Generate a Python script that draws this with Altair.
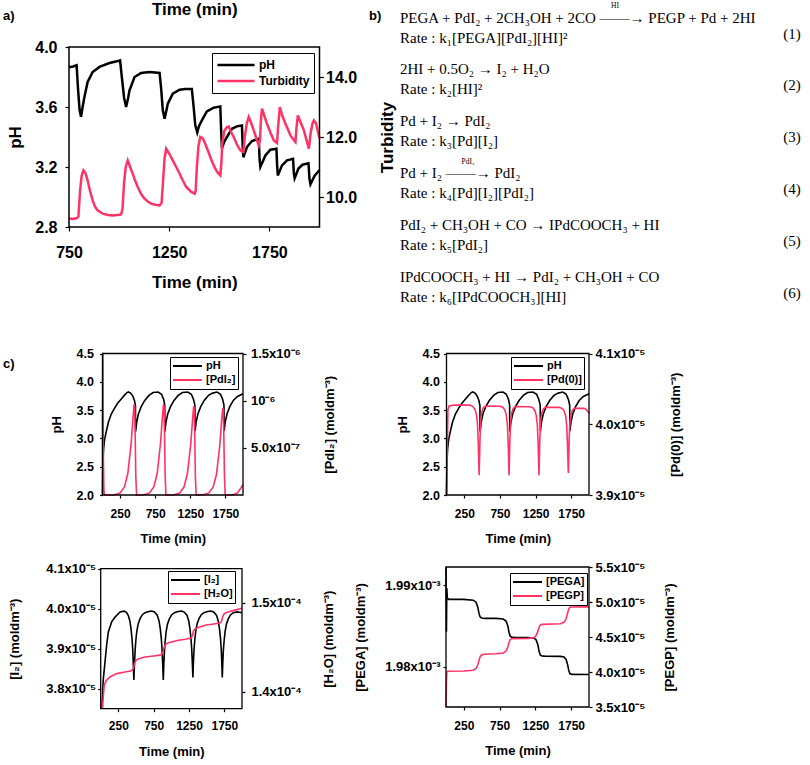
import json
import altair as alt
import pandas as pd

FONT = "Liberation Sans"
SERIF = "Liberation Serif"
RED = "#ff3366"

# ---------------- panel a (measured pH and turbidity) ----------------
a_ph = [(750, 3.865), (770, 3.87), (788, 3.878), (795, 3.72), (803, 3.58), (810, 3.535),
        (818, 3.6), (827, 3.667), (843, 3.767), (868, 3.833), (902, 3.867), (952, 3.893),
        (1000, 3.908), (1005, 3.91), (1012, 3.82), (1025, 3.66), (1035, 3.6), (1045, 3.66),
        (1052, 3.711), (1077, 3.8), (1110, 3.827), (1152, 3.833), (1202, 3.827), (1210, 3.72),
        (1218, 3.58), (1227, 3.522), (1235, 3.57), (1243, 3.622), (1268, 3.689), (1302, 3.715),
        (1330, 3.72), (1363, 3.72), (1372, 3.6), (1380, 3.48), (1390, 3.43), (1398, 3.47),
        (1413, 3.511), (1438, 3.57), (1472, 3.595), (1505, 3.604), (1509, 3.45), (1513, 3.325),
        (1525, 3.37), (1538, 3.40), (1563, 3.455), (1588, 3.471), (1613, 3.477), (1617, 3.33),
        (1620, 3.265), (1638, 3.333), (1663, 3.373), (1697, 3.389), (1701, 3.25), (1705, 3.2),
        (1730, 3.277), (1755, 3.315), (1785, 3.322), (1789, 3.2), (1792, 3.144), (1813, 3.211),
        (1838, 3.244), (1868, 3.255), (1872, 3.16), (1876, 3.125), (1895, 3.19), (1915, 3.215),
        (1945, 3.225), (1950, 3.12), (1955, 3.085), (1975, 3.14), (2000, 3.18)]

a_turb = [(750, 9.28), (770, 9.27), (790, 9.3), (797, 9.35), (805, 10.2), (813, 10.7),
          (822, 10.887), (832, 10.8), (843, 10.553), (855, 10.2), (868, 9.887), (880, 9.68),
          (893, 9.553), (918, 9.443), (945, 9.4), (968, 9.387), (990, 9.40), (1010, 9.42),
          (1017, 9.6), (1025, 10.5), (1033, 11.0), (1043, 11.22), (1055, 11.0), (1068, 10.777),
          (1080, 10.55), (1093, 10.333), (1110, 10.1), (1127, 9.943), (1143, 9.85), (1160, 9.777),
          (1180, 9.74), (1202, 9.72), (1212, 9.8), (1220, 10.6), (1227, 11.3), (1235, 11.61),
          (1250, 11.45), (1268, 11.22), (1285, 11.0), (1302, 10.777), (1318, 10.55), (1335, 10.333),
          (1360, 10.167), (1377, 10.11), (1382, 10.2), (1388, 11.0), (1396, 11.7), (1405, 12.0),
          (1418, 11.95), (1430, 11.777), (1443, 11.55), (1455, 11.333), (1468, 11.12), (1480, 10.943),
          (1493, 10.8), (1505, 10.72), (1510, 11.1), (1515, 11.8), (1525, 12.2), (1538, 12.333),
          (1547, 12.35), (1560, 12.15), (1572, 12.0), (1588, 11.75), (1605, 11.553), (1620, 11.5),
          (1627, 12.0), (1637, 12.45), (1647, 12.667), (1660, 12.45), (1672, 12.22), (1685, 11.95),
          (1697, 11.72), (1703, 11.9), (1708, 12.6), (1713, 12.943), (1725, 12.7), (1738, 12.443),
          (1755, 12.15), (1772, 11.887), (1788, 11.8), (1793, 12.3), (1802, 13.0), (1815, 12.7),
          (1830, 12.443), (1843, 12.25), (1855, 12.053), (1868, 11.93), (1880, 11.833), (1885, 12.3),
          (1892, 12.72), (1905, 12.5), (1922, 12.22), (1935, 11.9), (1947, 11.61), (1955, 12.1),
          (1965, 12.45), (1972, 12.553), (1983, 12.45), (1993, 12.15), (2000, 11.95)]

# ---------------- panel c (simulated) ----------------
c_ph = [(0, 2.0), (6, 2.55), (14, 2.79), (30, 2.98), (50, 3.1), (85, 3.29), (125, 3.43),
        (170, 3.53), (215, 3.62), (264, 3.69), (310, 3.76), (349, 3.81), (368, 3.82), (400, 3.80),
        (430, 3.75), (455, 3.67), (469, 3.58), (471, 3.12), (486, 3.28), (511, 3.43), (551, 3.56),
        (601, 3.67), (661, 3.76), (721, 3.81), (793, 3.82), (840, 3.78), (870, 3.69), (886, 3.59),
        (888, 3.12), (903, 3.28), (928, 3.43), (968, 3.56), (1018, 3.67), (1078, 3.76), (1138, 3.81),
        (1213, 3.82), (1265, 3.78), (1295, 3.69), (1315, 3.59), (1318, 3.13), (1333, 3.29),
        (1358, 3.43), (1398, 3.56), (1448, 3.67), (1508, 3.76), (1568, 3.80), (1632, 3.82),
        (1680, 3.78), (1710, 3.69), (1729, 3.59), (1732, 3.13), (1747, 3.29), (1772, 3.43),
        (1812, 3.56), (1862, 3.67), (1922, 3.74), (2000, 3.79)]

c_pdi2 = [(0, 0.0), (3, 1.5e-6), (8, 1.5e-6), (12, 4.0e-7), (20, 5e-8), (30, 0.0), (160, 0.0),
          (250, 2e-8), (314, 8.8e-8), (361, 2.3e-7), (408, 5.5e-7), (435, 8.3e-7), (450, 9.6e-7),
          (458, 9.4e-7), (466, 6.0e-7), (474, 2.0e-7), (485, 0.0), (578, 0.0), (668, 2e-8),
          (732, 8.8e-8), (779, 2.3e-7), (826, 5.5e-7), (853, 8.3e-7), (868, 9.6e-7), (876, 9.4e-7),
          (884, 6.0e-7), (892, 2.0e-7), (903, 0.0), (1008, 0.0), (1098, 2e-8), (1162, 8.7e-8),
          (1209, 2.3e-7), (1256, 5.4e-7), (1283, 8.1e-7), (1298, 9.4e-7), (1306, 9.2e-7),
          (1314, 6.0e-7), (1322, 2.0e-7), (1333, 0.0), (1422, 0.0), (1512, 2e-8), (1576, 8.5e-8),
          (1623, 2.2e-7), (1670, 5.3e-7), (1697, 8.0e-7), (1712, 9.2e-7), (1720, 9.0e-7),
          (1728, 6.0e-7), (1736, 2.0e-7), (1747, 0.0), (1850, 0.0), (1920, 2e-8), (1950, 5.3e-8),
          (1975, 8e-8), (2000, 1.1e-7)]

c_pd0 = [(0, 3.9e-5), (20, 4.02e-5), (35, 4.026e-5), (100, 4.027e-5), (330, 4.027e-5),
         (370, 4.025e-5), (400, 4.021e-5), (420, 4.014e-5), (435, 4.0e-5), (445, 3.975e-5),
         (452, 3.95e-5), (458, 3.928e-5), (463, 3.95e-5), (470, 3.98e-5), (480, 4.005e-5),
         (495, 4.017e-5), (515, 4.023e-5), (545, 4.0257e-5), (750, 4.0255e-5), (790, 4.024e-5),
         (820, 4.02e-5), (840, 4.013e-5), (855, 3.999e-5), (865, 3.975e-5), (872, 3.95e-5),
         (878, 3.928e-5), (883, 3.95e-5), (890, 3.98e-5), (900, 4.004e-5), (915, 4.016e-5),
         (935, 4.022e-5), (965, 4.0249e-5), (1170, 4.0247e-5), (1210, 4.0235e-5), (1240, 4.0195e-5),
         (1260, 4.0125e-5), (1275, 3.999e-5), (1285, 3.975e-5), (1292, 3.95e-5), (1298, 3.928e-5),
         (1303, 3.95e-5), (1310, 3.98e-5), (1320, 4.003e-5), (1335, 4.015e-5), (1355, 4.021e-5),
         (1385, 4.024e-5), (1580, 4.0238e-5), (1620, 4.0225e-5), (1650, 4.019e-5), (1672, 4.012e-5),
         (1687, 3.998e-5), (1697, 3.975e-5), (1704, 3.95e-5), (1710, 3.931e-5), (1715, 3.95e-5),
         (1722, 3.98e-5), (1732, 4.002e-5), (1747, 4.014e-5), (1767, 4.02e-5), (1797, 4.0226e-5),
         (1930, 4.0225e-5), (1960, 4.021e-5), (1985, 4.018e-5), (2000, 4.0154e-5)]

c_i2 = [(18, 3.75e-5), (35, 3.82e-5), (61, 3.867e-5), (85, 3.91e-5), (108, 3.942e-5), (155, 3.967e-5),
        (203, 3.979e-5), (274, 3.992e-5), (330, 3.994e-5), (365, 3.991e-5), (391, 3.983e-5),
        (412, 3.97e-5), (429, 3.95e-5), (443, 3.925e-5), (453, 3.9e-5), (462, 3.86e-5),
        (470, 3.822e-5), (477, 3.86e-5), (486, 3.892e-5), (497, 3.92e-5), (510, 3.942e-5),
        (530, 3.962e-5), (557, 3.975e-5), (590, 3.985e-5), (627, 3.99e-5), (680, 3.993e-5),
        (722, 3.994e-5), (760, 3.992e-5), (800, 3.984e-5), (825, 3.97e-5), (843, 3.95e-5),
        (858, 3.925e-5), (868, 3.9e-5), (878, 3.86e-5), (886, 3.822e-5), (893, 3.86e-5),
        (902, 3.892e-5), (913, 3.92e-5), (926, 3.942e-5), (946, 3.962e-5), (973, 3.975e-5),
        (1006, 3.985e-5), (1043, 3.99e-5), (1096, 3.993e-5), (1140, 3.994e-5), (1180, 3.992e-5),
        (1220, 3.984e-5), (1245, 3.97e-5), (1263, 3.95e-5), (1278, 3.925e-5), (1288, 3.9e-5),
        (1297, 3.865e-5), (1305, 3.828e-5), (1312, 3.865e-5), (1320, 3.895e-5), (1331, 3.92e-5),
        (1344, 3.942e-5), (1364, 3.962e-5), (1391, 3.975e-5), (1424, 3.985e-5), (1461, 3.99e-5),
        (1514, 3.993e-5), (1558, 3.994e-5), (1598, 3.992e-5), (1638, 3.984e-5), (1663, 3.97e-5),
        (1681, 3.95e-5), (1696, 3.925e-5), (1706, 3.9e-5), (1714, 3.865e-5), (1721, 3.828e-5),
        (1728, 3.865e-5), (1736, 3.895e-5), (1747, 3.92e-5), (1760, 3.942e-5), (1780, 3.962e-5),
        (1807, 3.975e-5), (1840, 3.985e-5), (1877, 3.99e-5), (1930, 3.992e-5), (2000, 3.99e-5)]

c_h2o = [(25, 1.3813e-4), (37, 1.395e-4), (50, 1.4075e-4), (80, 1.413e-4), (132, 1.4168e-4),
         (226, 1.4205e-4), (344, 1.4223e-4), (420, 1.4235e-4), (450, 1.4245e-4), (465, 1.427e-4),
         (480, 1.432e-4), (500, 1.4355e-4), (530, 1.437e-4), (627, 1.4391e-4), (750, 1.4403e-4),
         (840, 1.4412e-4), (870, 1.4425e-4), (885, 1.4455e-4), (900, 1.4505e-4), (920, 1.4532e-4),
         (960, 1.455e-4), (1099, 1.4578e-4), (1200, 1.459e-4), (1280, 1.4602e-4), (1298, 1.463e-4),
         (1312, 1.468e-4), (1335, 1.4705e-4), (1380, 1.4722e-4), (1477, 1.4745e-4), (1600, 1.476e-4),
         (1690, 1.4771e-4), (1712, 1.4795e-4), (1728, 1.4845e-4), (1750, 1.4875e-4), (1800, 1.4895e-4),
         (1900, 1.4915e-4), (2000, 1.4935e-4)]

c_pega = [(0, 1.9922e-3), (6, 1.9843e-3), (12, 1.9896e-3), (18, 1.9884e-3), (40, 1.98825e-3),
          (250, 1.98825e-3), (380, 1.98815e-3), (420, 1.9879e-3), (445, 1.9873e-3), (462, 1.9865e-3),
          (478, 1.9861e-3), (500, 1.98598e-3), (540, 1.98592e-3), (700, 1.98592e-3), (800, 1.98585e-3),
          (840, 1.9856e-3), (865, 1.985e-3), (882, 1.9842e-3), (898, 1.98375e-3), (920, 1.98362e-3),
          (960, 1.9836e-3), (1150, 1.98358e-3), (1230, 1.9835e-3), (1260, 1.9833e-3), (1285, 1.9827e-3),
          (1302, 1.9819e-3), (1318, 1.98145e-3), (1340, 1.98133e-3), (1380, 1.98131e-3),
          (1600, 1.98128e-3), (1650, 1.9812e-3), (1680, 1.9809e-3), (1700, 1.9803e-3), (1716, 1.9796e-3),
          (1732, 1.97918e-3), (1760, 1.97908e-3), (2000, 1.97907e-3)]

c_pegp = [(0, 3.5e-5), (6, 3.8e-5), (10, 4.0e-5), (30, 4.01e-5), (250, 4.014e-5), (380, 4.025e-5),
          (420, 4.05e-5), (445, 4.1e-5), (462, 4.17e-5), (478, 4.22e-5), (500, 4.245e-5),
          (540, 4.253e-5), (700, 4.26e-5), (800, 4.27e-5), (840, 4.3e-5), (865, 4.36e-5),
          (882, 4.42e-5), (898, 4.465e-5), (920, 4.477e-5), (1150, 4.48e-5), (1230, 4.49e-5),
          (1260, 4.52e-5), (1285, 4.58e-5), (1302, 4.64e-5), (1318, 4.67e-5), (1340, 4.681e-5),
          (1600, 4.69e-5), (1650, 4.71e-5), (1680, 4.76e-5), (1700, 4.84e-5), (1716, 4.9e-5),
          (1732, 4.925e-5), (1760, 4.929e-5), (2000, 4.93e-5)]

# ---------------- ticks / labels ----------------
a_x_ticks = [750, 1250, 1750]
a_x_labels = ["750", "1250", "1750"]
a_ph_ticks = [2.8, 3.2, 3.6, 4.0]
a_ph_labels = ["2.8", "3.2", "3.6", "4.0"]
a_turb_ticks = [10, 12, 14]
a_turb_labels = ["10.0", "12.0", "14.0"]
c_x_ticks = [250, 750, 1250, 1750]
c_x_labels = ["250", "750", "1250", "1750"]
c_ph_ticks = [2.0, 2.5, 3.0, 3.5, 4.0, 4.5]
c_ph_labels = ["2.0", "2.5", "3.0", "3.5", "4.0", "4.5"]
pdi2_ticks = [5e-7, 1e-6, 1.5e-6]
pdi2_labels = ["5.0x10⁻⁷", "10⁻⁶", "1.5x10⁻⁶"]
pd0_ticks = [3.9e-5, 4.0e-5, 4.1e-5]
pd0_labels = ["3.9x10⁻⁵", "4.0x10⁻⁵", "4.1x10⁻⁵"]
i2_ticks = [3.8e-5, 3.9e-5, 4.0e-5, 4.1e-5]
i2_labels = ["3.8x10⁻⁵", "3.9x10⁻⁵", "4.0x10⁻⁵", "4.1x10⁻⁵"]
h2o_ticks = [1.4e-4, 1.5e-4]
h2o_labels = ["1.4x10⁻⁴", "1.5x10⁻⁴"]
pega_ticks = [1.98e-3, 1.99e-3]
pega_labels = ["1.98x10⁻³", "1.99x10⁻³"]
pegp_ticks = [3.5e-5, 4.0e-5, 4.5e-5, 5.0e-5, 5.5e-5]
pegp_labels = ["3.5x10⁻⁵", "4.0x10⁻⁵", "4.5x10⁻⁵", "5.0x10⁻⁵", "5.5x10⁻⁵"]

# ---------------- equations (panel b) ----------------
eq_reaction = ["PEGA + PdI₂ + 2CH₃OH + 2CO ——→ PEGP + Pd + 2HI",
               "2HI + 0.5O₂ → I₂ + H₂O",
               "Pd + I₂ → PdI₂",
               "Pd + I₂ ——→ PdI₂",
               "PdI₂ + CH₃OH + CO → IPdCOOCH₃ + HI",
               "IPdCOOCH₃ + HI → PdI₂ + CH₃OH + CO"]
eq_rate = ["Rate : k₁[PEGA][PdI₂][HI]²",
           "Rate : k₂[HI]²",
           "Rate : k₃[Pd][I₂]",
           "Rate : k₄[Pd][I₂][PdI₂]",
           "Rate : k₅[PdI₂]",
           "Rate : k₆[IPdCOOCH₃][HI]"]
eq_number = ["(1)", "(2)", "(3)", "(4)", "(5)", "(6)"]
eq_catalyst = ["HI", "PdI₂"]


def lab_expr(ticks, labels):
    step = ticks[1] - ticks[0]
    return f"{json.dumps(labels, ensure_ascii=False)}[round((datum.value - ({ticks[0]!r})) / ({step!r}))]"


def axis(orient, offset, ticks, labels, lfs, title, tfs, extent, tick=3, lpad=3):
    kw = dict(orient=orient, offset=offset, values=ticks, labelExpr=lab_expr(ticks, labels),
              labelFontSize=lfs, title=title, titleFontSize=tfs, minExtent=extent,
              maxExtent=extent, titlePadding=0, tickSize=tick, labelPadding=lpad,
              domain=False, grid=False, labelFlush=False, labelOverlap=False)
    if orient == "right":
        kw.update(titleAngle=270, titleBaseline="top")
    return alt.Axis(**kw)


def legend(x, y, pad, clip, size, sw, lfs):
    return alt.Legend(orient="none", legendX=x, legendY=y, title=None, padding=pad,
                      clipHeight=clip, symbolType="stroke", symbolSize=size,
                      symbolStrokeWidth=sw, labelFont=FONT, labelFontWeight="bold",
                      labelFontSize=lfs, labelColor="black", rowPadding=0, labelOffset=3,
                      symbolOffset=0, strokeColor="black", fillColor="white")


def panel(black, red, names, xdom, xr, ydl, ydr, yr, xax, yaxl, yaxr, leg, lw, fw):
    bdf = pd.DataFrame(black, columns=["t", "v"])
    bdf["series"] = names[0]
    rdf = pd.DataFrame(red, columns=["t", "v"])
    rdf["series"] = names[1]
    fdf = pd.DataFrame({"t": [xdom[0]], "t2": [xdom[1]], "y0": [ydl[0]], "y1": [ydl[1]]})
    cs = alt.Scale(domain=names, range=["black", RED])

    def xs():
        return alt.Scale(domain=xdom, range=xr, nice=False, zero=False)

    def ys(d):
        return alt.Scale(domain=d, range=yr, nice=False, zero=False)

    lb = alt.Chart(bdf).mark_line(strokeWidth=lw).encode(
        x=alt.X("t:Q", scale=xs(), axis=xax),
        y=alt.Y("v:Q", scale=ys(ydl), axis=yaxl),
        color=alt.Color("series:N", scale=cs, legend=leg))
    lr = alt.Chart(rdf).mark_line(strokeWidth=lw).encode(
        x=alt.X("t:Q", scale=xs(), axis=xax),
        y=alt.Y("v:Q", scale=ys(ydr), axis=yaxr),
        color=alt.Color("series:N", scale=cs, legend=leg))
    fr = alt.Chart(fdf).mark_rect(fillOpacity=0, stroke="black", strokeWidth=fw).encode(
        x=alt.X("t:Q", scale=xs(), axis=xax), x2="t2:Q",
        y=alt.Y("y0:Q", scale=ys(ydl), axis=None), y2="y1:Q")
    return alt.layer(lb, lr, fr).resolve_scale(y="independent")


W, H = 810, 765
TM = "Time (min)"
UNIT = " (moldm⁻³)"
SCI = 13

# panel a
A_X, A_XR, A_YR = [750, 2000], [69, 319.5], [227, 47]
pa = panel(a_ph, a_turb, ["pH", "Turbidity"], A_X, A_XR, [2.8, 4.0], [9.0, 15.0], A_YR,
           axis("bottom", 227 - H, a_x_ticks, a_x_labels, 16, TM, 17, 47, tick=4, lpad=13),
           axis("left", -69, a_ph_ticks, a_ph_labels, 16, "pH", 17, 45, tick=4, lpad=8),
           axis("right", 319.5 - W, a_turb_ticks, a_turb_labels, 16, "Turbidity", 17, 60, tick=4, lpad=2),
           legend(212, 53, 4, 16, 1369, 2.5, 12), 2.5, 1.5)

top_df = pd.DataFrame({"x0": [A_X[0]], "x1": [A_X[1]]})
top_title = alt.Chart(top_df).mark_rect(fillOpacity=0, strokeOpacity=0).encode(
    x=alt.X("x0:Q", scale=alt.Scale(domain=A_X, range=A_XR, nice=False, zero=False),
            axis=alt.Axis(orient="top", offset=-47, labels=False, ticks=False, domain=False,
                          title=TM, titleFontSize=17, minExtent=29, maxExtent=29,
                          titlePadding=0, grid=False)),
    x2="x1:Q")

C_X = [0, 2000]
C_TOP_YR = [495, 353.5]
c1 = panel(c_ph, c_pdi2, ["pH", "[PdI₂]"], C_X, [102.5, 243], [2.0, 4.5], [0, 1.5e-6], C_TOP_YR,
           axis("bottom", 495 - H, c_x_ticks, c_x_labels, 12, TM, 13, 37, lpad=10),
           axis("left", -102.5, c_ph_ticks, c_ph_labels, 12.5, "pH", 13, 39, lpad=6),
           axis("right", 243 - W, pdi2_ticks, pdi2_labels, SCI, "[PdI₂]" + UNIT, 13, 80, lpad=4.5),
           legend(170, 357, 2, 14, 841, 2, 11), 1.6, 1.3)
c2 = panel(c_ph, c_pd0, ["pH", "[Pd(0)]"], C_X, [446.5, 589], [2.0, 4.5], [3.9e-5, 4.1e-5], C_TOP_YR,
           axis("bottom", 495 - H, c_x_ticks, c_x_labels, 12, TM, 13, 37, lpad=10),
           axis("left", -446.5, c_ph_ticks, c_ph_labels, 12.5, "pH", 13, 37, lpad=4),
           axis("right", 589 - W, pd0_ticks, pd0_labels, SCI, "[Pd(0)]" + UNIT, 13, 80, lpad=3),
           legend(511, 357, 2, 14, 841, 2, 11), 1.6, 1.3)
c3 = panel(c_i2, c_h2o, ["[I₂]", "[H₂O]"], C_X, [100.7, 242], [3.75e-5, 4.1e-5], [1.3813e-4, 1.5378e-4],
           [708.7, 568.7],
           axis("bottom", 708.7 - H, c_x_ticks, c_x_labels, 12, TM, 13, 37, lpad=9),
           axis("left", -100.7, i2_ticks, i2_labels, SCI, "[I₂]" + UNIT, 13, 79, lpad=2),
           axis("right", 242 - W, h2o_ticks, h2o_labels, SCI, "[H₂O]" + UNIT, 13, 80, lpad=6),
           legend(168, 571, 2, 14, 841, 2, 11), 1.6, 1.3)
c4 = panel(c_pega, c_pegp, ["[PEGA]", "[PEGP]"], C_X, [446, 589], [1.9751e-3, 1.9922e-3], [3.5e-5, 5.5e-5],
           [707, 567],
           axis("bottom", 707 - H, c_x_ticks, c_x_labels, 12, TM, 13, 37.5, lpad=10),
           axis("left", -446, pega_ticks, pega_labels, SCI, "[PEGA]" + UNIT, 13, 79, lpad=3),
           axis("right", 589 - W, pegp_ticks, pegp_labels, SCI, "[PEGP]" + UNIT, 13, 74, lpad=3),
           legend(510, 573, 2, 14, 841, 2, 11), 1.6, 1.3)

# panel b text
eq_df = pd.DataFrame({"idx": list(range(1, 7)), "reaction": eq_reaction, "rate": eq_rate,
                      "num": eq_number})
eq_y = alt.Y("idx:Q", scale=alt.Scale(domain=[1, 6], range=[27.5, 287], nice=False, zero=False),
             axis=None)
EQ_FS = 15
eq_react = alt.Chart(eq_df).mark_text(align="left", baseline="middle", font=SERIF, fontSize=EQ_FS,
                                      color="black", dy=-10).encode(
    x=alt.value(400), y=eq_y, text="reaction:N")
eq_rt = alt.Chart(eq_df).mark_text(align="left", baseline="middle", font=SERIF, fontSize=EQ_FS,
                                   color="black", dy=10).encode(
    x=alt.value(400), y=eq_y, text="rate:N")
eq_num = alt.Chart(eq_df).mark_text(align="center", baseline="middle", font=SERIF, fontSize=EQ_FS,
                                    color="black", dy=6).encode(
    x=alt.value(792), y=eq_y, text="num:N")

cat_df = pd.DataFrame({"t": eq_catalyst})
cat1 = alt.Chart(cat_df.iloc[[0]]).mark_text(font=SERIF, fontSize=7.5, color="black",
                                             baseline="bottom").encode(
    x=alt.value(615), y=alt.value(10), text="t:N")
cat2 = alt.Chart(cat_df.iloc[[1]]).mark_text(font=SERIF, fontSize=7.5, color="black",
                                             baseline="bottom").encode(
    x=alt.value(468), y=alt.value(166), text="t:N")

letters = pd.DataFrame({"l": ["a)", "b)", "c)"]})


def letter(i, x, y):
    return alt.Chart(letters.iloc[[i]]).mark_text(font=FONT, fontWeight="bold", fontSize=13,
                                                   align="left", baseline="middle",
                                                   color="black").encode(
        x=alt.value(x), y=alt.value(y), text="l:N")


chart = alt.layer(pa, c1, c2, c3, c4, top_title, eq_react, eq_rt, eq_num, cat1, cat2,
                  letter(0, 3, 16), letter(1, 369, 16), letter(2, 3, 364)).resolve_scale(
    x="independent", y="independent", color="independent"
).properties(
    width=W, height=H, padding=0, autosize=alt.AutoSizeParams(type="none")
).configure_view(strokeWidth=0).configure_axis(
    labelFont=FONT, titleFont=FONT, labelFontWeight="bold", titleFontWeight="bold",
    labelColor="black", titleColor="black", tickColor="black", domainColor="black",
    tickWidth=1.2, grid=False
)

chart.save("out.html", embed_options={"renderer": "svg", "actions": False})
